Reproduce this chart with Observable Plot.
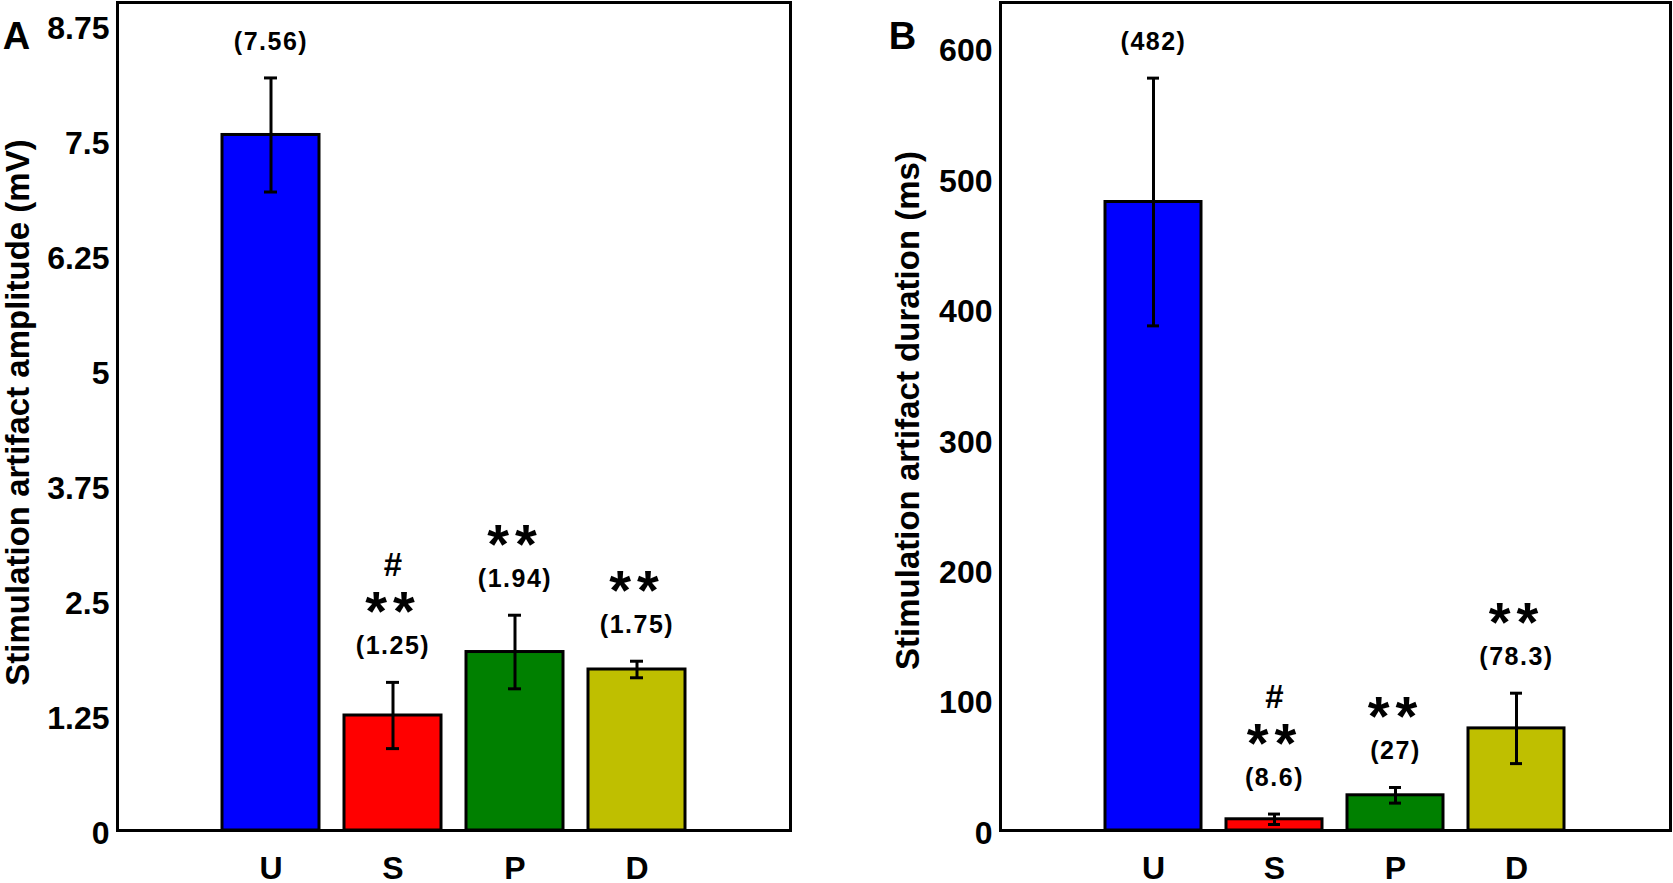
<!DOCTYPE html>
<html>
<head>
<meta charset="utf-8">
<script src="https://cdn.jsdelivr.net/npm/d3@7"></script>
<script src="https://cdn.jsdelivr.net/npm/@observablehq/plot@0.6"></script>
<style>
  html, body { margin: 0; padding: 0; background: white; }
  #wrap { display: flex; width: 1673px; height: 883px; }
  svg { display: block; }
</style>
</head>
<body>
<div id="wrap"></div>
<script>
const categories = ["U", "S", "P", "D"];
const barColors = ["#0000ff", "#ff0000", "#008000", "#bfbf00"];

const amplitudeMean = [7.56, 1.25, 1.94, 1.75];
const amplitudeSem = [0.62, 0.36, 0.40, 0.09];
const amplitudeLabels = ["(7.56)", "(1.25)", "(1.94)", "(1.75)"];
const amplitudeStars = ["", "**", "**", "**"];
const amplitudeHash = ["", "#", "", ""];
const amplitudeTicks = [0, 1.25, 2.5, 3.75, 5, 6.25, 7.5, 8.75];
const amplitudeDomain = [0, 9];

const durationMean = [482, 8.6, 27, 78.3];
const durationSem = [95, 4, 6, 27];
const durationLabels = ["(482)", "(8.6)", "(27)", "(78.3)"];
const durationStars = ["", "**", "**", "**"];
const durationHash = ["", "#", "", ""];
const durationTicks = [0, 100, 200, 300, 400, 500, 600];
const durationDomain = [0, 635];

const FONT = "'Liberation Sans', Arial, Helvetica, sans-serif";

function panel(o) {
  const rows = categories.map((c, i) => ({
    cat: c, v: o.means[i], e: o.sems[i],
    label: o.labels[i], star: o.stars[i], hash: o.hashes[i]
  }));
  const top = d => d.v + d.e;
  const svg = Plot.plot({
    width: o.width,
    height: 883,
    marginLeft: o.marginLeft,
    marginRight: o.marginRight,
    marginTop: 2,
    marginBottom: 53,
    style: { fontFamily: FONT, fontWeight: "bold", color: "black", background: "white" },
    x: { type: "band", domain: categories, paddingInner: 0.205, paddingOuter: 0.853, align: 0.5 },
    y: { domain: o.domain },
    color: { domain: categories, range: barColors },
    marks: [
      Plot.barY(rows, { x: "cat", y: "v", fill: "cat", stroke: "black", strokeWidth: 3 }),
      Plot.ruleX(rows, { x: "cat", y1: d => d.v - d.e, y2: top, stroke: "black", strokeWidth: 3 }),
      Plot.tickY(rows, { x: "cat", y: top, stroke: "black", strokeWidth: 3, insetLeft: 42, insetRight: 42 }),
      Plot.tickY(rows, { x: "cat", y: d => d.v - d.e, stroke: "black", strokeWidth: 3, insetLeft: 42, insetRight: 42 }),
      Plot.text(rows, { x: "cat", y: top, text: "label", dy: -36, fontSize: 25, fontWeight: "bold", fill: "black" }),
      Plot.text(rows, { x: "cat", y: top, text: "star", dy: -70, fontSize: 56, fontWeight: "bold", fill: "black" }),
      Plot.text(rows, { x: "cat", y: top, text: "hash", dy: -117, fontSize: 33, fontWeight: "bold", fill: "black" }),
      Plot.axisY({ ticks: o.ticks, tickFormat: d => String(d), tickSize: 0, tickPadding: 8, label: null, fontSize: 32, fontWeight: "bold", dy: 3 }),
      Plot.axisX({ tickSize: 0, tickPadding: 26, label: null, fontSize: 32, fontWeight: "bold" }),
      Plot.text([o.title], { text: d => d, frameAnchor: "left", textAnchor: "middle", rotate: -90, dx: o.titleDx, dy: o.titleDy, fontSize: 33, fontWeight: "bold", fill: "black" }),
      Plot.text([o.letter], { text: d => d, frameAnchor: "top-left", textAnchor: "middle", dx: o.letterDx, dy: 20, fontSize: 38, fontWeight: "bold", fill: "black" }),
      Plot.frame({ stroke: "black", strokeWidth: 3 })
    ]
  });
  d3.select(svg).selectAll('g[font-size="25"]').attr("letter-spacing", "1.5");
  d3.select(svg).selectAll('g[font-size="56"]').attr("letter-spacing", "6");
  return svg;
}

const wrap = document.getElementById("wrap");
wrap.appendChild(panel({
  means: amplitudeMean, sems: amplitudeSem, labels: amplitudeLabels,
  stars: amplitudeStars, hashes: amplitudeHash, ticks: amplitudeTicks, domain: amplitudeDomain,
  width: 836, marginLeft: 117, marginRight: 46,
  title: "Stimulation artifact amplitude (mV)", titleDx: -99, titleDy: -4,
  letter: "A", letterDx: -101
}));
wrap.appendChild(panel({
  means: durationMean, sems: durationSem, labels: durationLabels,
  stars: durationStars, hashes: durationHash, ticks: durationTicks, domain: durationDomain,
  width: 837, marginLeft: 164, marginRight: 3,
  title: "Stimulation artifact duration (ms)", titleDx: -92, titleDy: -6,
  letter: "B", letterDx: -98
}));
</script>
</body>
</html>
